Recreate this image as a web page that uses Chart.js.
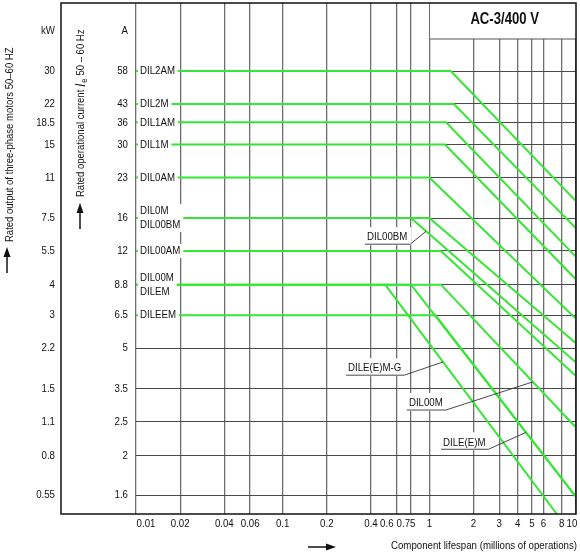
<!DOCTYPE html>
<html>
<head>
<meta charset="utf-8">
<script src="https://cdn.jsdelivr.net/npm/chart.js@4"></script>
<style>
  html, body { margin: 0; padding: 0; background: #fff; }
  #wrap { width: 580px; height: 553px; }
</style>
</head>
<body>
<div id="wrap"><canvas id="chart"></canvas></div>
<script>
// tick values
const lifeTicks = [0.01, 0.02, 0.04, 0.06, 0.1, 0.2, 0.4, 0.6, 0.75, 1, 2, 3, 4, 5, 6, 8, 10];
const kwTicks = [30, 22, 18.5, 15, 11, 7.5, 5.5, 4, 3, 2.2, 1.5, 1.1, 0.8, 0.55];
const ampTicks = ['58', '43', '36', '30', '23', '16', '12', '8.8', '6.5', '5', '3.5', '2.5', '2', '1.6'];
const rowNames = [['DIL2AM'], ['DIL2M'], ['DIL1AM'], ['DIL1M'], ['DIL0AM'], ['DIL0M', 'DIL00BM'],
                  ['DIL00AM'], ['DIL00M', 'DILEM'], ['DILEEM'], [], [], [], [], []];

// contactor curves: [lifespan in millions of operations, rated output kW]
const dil2am  = [[0.01, 30],  [1.4, 30],  [10, 8.8]];
const dil2m   = [[0.01, 22],  [1.47, 22], [10, 6.8]];
const dil1am  = [[0.01, 18.5],[1.3, 18.5],[10, 5.2]];
const dil1m   = [[0.01, 15],  [1.28, 15], [10, 4.2]];
const dil0am  = [[0.01, 11],  [1.0, 11],  [10, 2.9]];
const dil0m   = [[0.01, 7.5], [1.0, 7.5], [10, 2.3]];
const dil00bm = [[0.01, 7.5], [0.75, 7.5],[10, 1.92]];
const dil00am = [[0.01, 5.5], [1.2, 5.5], [10, 1.69]];
const dil00m  = [[0.01, 4],   [1.2, 4],   [10, 1.04]];
const dilem   = [[0.01, 4],   [0.75, 4],  [10, 0.54]];
const dileem  = [[0.01, 3],   [1.1, 3],   [10, 0.54]];
const dilemG  = [[0.5, 4],    [7.4, 0.46]];

const series = [dil2am, dil2m, dil1am, dil1m, dil0am, dil0m, dil00bm, dil00am, dil00m, dilem, dileem, dilemG];

// labels with leader lines: text position and the point on the curve they point to
const callouts = [
  { text: 'DIL00BM',    life: 0.376, kw: 6.26, line: dil00bm, at: 0.95 },
  { text: 'DILE(E)M-G', life: 0.279, kw: 1.82, line: dilemG,  at: 1.24 },
  { text: 'DIL00M',     life: 0.726, kw: 1.31, line: dil00m,  at: 5.08 },
  { text: 'DILE(E)M',   life: 1.24,  kw: 0.905, line: dilem,  at: 4.55 }
];

// x tick labels nudged sideways where they would collide
const tickNudge = { 0.01: 10, 0.6: -10, 0.75: -5, 10: -4 };

const FONT = "'Liberation Sans', Arial, sans-serif";
const NARROW = 0.82;
const SIZE = 11.8;
const GREEN = '#35e635';
const TEXT = '#111';

// condensed text: regular face squeezed horizontally
function ntext(ctx, str, x, y, align, font) {
  ctx.save();
  ctx.translate(x, y);
  ctx.scale(NARROW, 1);
  ctx.font = font || SIZE + 'px ' + FONT;
  ctx.textAlign = align || 'left';
  ctx.fillText(str, 0, 0);
  ctx.restore();
}
function nwidth(ctx, str, font) {
  ctx.save();
  ctx.font = font || SIZE + 'px ' + FONT;
  const w = ctx.measureText(str).width * NARROW;
  ctx.restore();
  return w;
}

function pointOn(line, life, x, y) {
  for (let i = 0; i < line.length - 1; i++) {
    const [a, b] = [line[i], line[i + 1]];
    if (life >= a[0] && life <= b[0]) {
      const xa = x.getPixelForValue(a[0]), xb = x.getPixelForValue(b[0]);
      const ya = y.getPixelForValue(a[1]), yb = y.getPixelForValue(b[1]);
      const px = x.getPixelForValue(life);
      return [px, ya + (yb - ya) * (px - xa) / (xb - xa)];
    }
  }
  return null;
}

function arrow(ctx, x0, y0, x1, y1) {
  const ang = Math.atan2(y1 - y0, x1 - x0);
  const c = Math.cos(ang), s = Math.sin(ang);
  ctx.beginPath();
  ctx.moveTo(x0, y0);
  ctx.lineTo(x1 - 8 * c, y1 - 8 * s);
  ctx.stroke();
  ctx.beginPath();
  ctx.moveTo(x1, y1);
  ctx.lineTo(x1 - 10 * c + 3.5 * s, y1 - 10 * s - 3.5 * c);
  ctx.lineTo(x1 - 10 * c - 3.5 * s, y1 - 10 * s + 3.5 * c);
  ctx.closePath();
  ctx.fill();
}

const decor = {
  id: 'decor',
  beforeDatasetsDraw(chart) {
    const { ctx, chartArea: a, scales: { x } } = chart;
    const x1 = x.getPixelForValue(1);
    ctx.save();
    ctx.fillStyle = '#fff';
    ctx.fillRect(x1 + 0.8, a.top, a.right - x1, 36);
    ctx.strokeStyle = '#555';
    ctx.lineWidth = 1.2;
    ctx.beginPath();
    ctx.moveTo(x1, a.top + 36);
    ctx.lineTo(a.right, a.top + 36);
    ctx.stroke();
    ctx.fillStyle = '#111';
    ctx.textBaseline = 'middle';
    ntext(ctx, 'AC-3/400 V', (x1 + a.right) / 2 + 2, a.top + 17, 'center', 'bold 16px ' + FONT);
    ctx.restore();
  },
  afterDatasetsDraw(chart) {
    const { ctx, chartArea: a, scales: { x, y, kw } } = chart;
    ctx.save();
    ctx.textBaseline = 'middle';

    // row labels on the left of the green lines
    rowNames.forEach((names, i) => {
      if (!names.length) return;
      const py = y.getPixelForValue(kwTicks[i]);
      const w = Math.max(...names.map(n => nwidth(ctx, n)));
      const h = names.length === 1 ? 7 : 14;
      ctx.fillStyle = '#fff';
      ctx.fillRect(a.left + 2, py - h, w + 5, h * 2);
      ctx.fillStyle = TEXT;
      if (names.length === 1) {
        ntext(ctx, names[0], a.left + 4, py);
      } else {
        ntext(ctx, names[0], a.left + 4, py - 7);
        ntext(ctx, names[1], a.left + 4, py + 7);
      }
    });

    // callouts with leader lines
    callouts.forEach(c => {
      const tx = x.getPixelForValue(c.life);
      const ty = y.getPixelForValue(c.kw);
      const w = nwidth(ctx, c.text);
      ctx.fillStyle = '#fff';
      ctx.fillRect(tx - 3, ty - 10, w + 7, 18);
      ctx.fillStyle = TEXT;
      ntext(ctx, c.text, tx, ty);
      const p = pointOn(c.line, c.at, x, y);
      ctx.strokeStyle = '#333';
      ctx.lineWidth = 0.9;
      ctx.beginPath();
      ctx.moveTo(tx - 2, ty + 7);
      ctx.lineTo(tx + w + 3, ty + 7);
      ctx.lineTo(p[0], p[1]);
      ctx.stroke();
    });

    // frame
    ctx.strokeStyle = '#111';
    ctx.lineWidth = 1.5;
    ctx.strokeRect(y.left, a.top, a.right - y.left, a.bottom - a.top);

    // tick labels
    ctx.fillStyle = TEXT;
    kwTicks.forEach((v, i) => {
      const py = y.getPixelForValue(v);
      ntext(ctx, String(v), kw.right - 6, py, 'right');
      ntext(ctx, ampTicks[i], y.right - 8, py, 'right');
    });
    lifeTicks.forEach(v => {
      ntext(ctx, String(v), x.getPixelForValue(v) + (tickNudge[v] || 0), a.bottom + 10, 'center');
    });

    // column headers
    ntext(ctx, 'kW', kw.right - 6, a.top + 28, 'right');
    ntext(ctx, 'A', y.right - 8, a.top + 28, 'right');

    // x title
    ntext(ctx, 'Component lifespan (millions of operations)', a.right + 1, 546, 'right');
    ctx.strokeStyle = '#111';
    ctx.fillStyle = '#111';
    ctx.lineWidth = 1.5;
    arrow(ctx, 308, 547, 336, 547);

    // y titles (rotated)
    ctx.fillStyle = TEXT;
    ctx.save();
    ctx.translate(10, 242);
    ctx.rotate(-Math.PI / 2);
    ntext(ctx, 'Rated output of three-phase motors 50\u201360 HZ', 0, 0, 'left', '11.6px ' + FONT);
    ctx.restore();

    ctx.save();
    ctx.translate(81, 197);
    ctx.rotate(-Math.PI / 2);
    const t = 'Rated operational current ';
    ntext(ctx, t, 0, 0, 'left', '11.6px ' + FONT);
    let off = nwidth(ctx, t, '11.6px ' + FONT);
    ntext(ctx, 'I', off, 0, 'left', 'italic 15px ' + FONT);
    off += nwidth(ctx, 'I', 'italic 15px ' + FONT) + 1;
    ntext(ctx, 'e', off, 4, 'left', '9px ' + FONT);
    off += nwidth(ctx, 'e', '9px ' + FONT) + 3;
    ntext(ctx, '50 \u2013 60 Hz', off, 0, 'left', '11.6px ' + FONT);
    ctx.restore();

    ctx.fillStyle = '#111';
    arrow(ctx, 7, 273, 7, 247);
    arrow(ctx, 80, 229, 80, 203);

    ctx.restore();
  }
};

const logAxis = (ticks, extra) => Object.assign({
  type: 'logarithmic',
  afterBuildTicks: s => { s.ticks = ticks.map(v => ({ value: v })); }
}, extra);

new Chart(document.getElementById('chart'), {
  type: 'line',
  data: {
    datasets: series.map(s => ({
      data: s.map(([lx, ky]) => ({ x: lx, y: ky })),
      borderColor: GREEN,
      borderWidth: 2,
      pointRadius: 0,
      fill: false,
      tension: 0
    }))
  },
  plugins: [decor],
  options: {
    responsive: true,
    maintainAspectRatio: false,
    animation: false,
    layout: { padding: { left: 0, top: 3, right: 4, bottom: 0 } },
    plugins: { legend: { display: false }, tooltip: { enabled: false } },
    scales: {
      x: logAxis(lifeTicks, {
        min: 0.01, max: 10,
        ticks: { display: false, autoSkip: false },
        grid: { color: '#6e6e6e', lineWidth: 1.3, drawTicks: false },
        border: { display: false },
        afterFit: s => { s.height = 39; s.paddingLeft = 0; s.paddingRight = 0; }
      }),
      y: logAxis(kwTicks, {
        position: 'left', weight: 0, min: 0.46, max: 57,
        ticks: { display: false, autoSkip: false },
        grid: { color: '#4a4a4a', lineWidth: 1, drawTicks: false },
        border: { display: false },
        afterFit: s => { s.width = 75; s.paddingTop = 0; s.paddingBottom = 0; }
      }),
      kw: logAxis(kwTicks, {
        position: 'left', weight: 1, min: 0.46, max: 57,
        ticks: { display: false, autoSkip: false },
        grid: { display: false, drawTicks: false },
        border: { display: false },
        afterFit: s => { s.width = 61; s.paddingTop = 0; s.paddingBottom = 0; }
      })
    }
  }
});
</script>
</body>
</html>
